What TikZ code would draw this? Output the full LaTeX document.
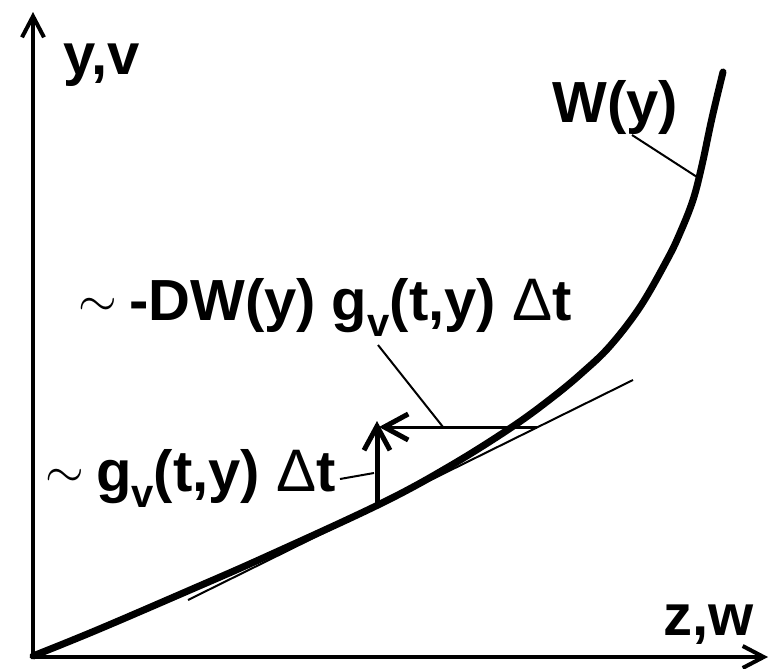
\documentclass[tikz,border=0pt]{standalone}
\usepackage{fontspec}
\setmainfont{Liberation Sans}
\usetikzlibrary{arrows.meta}

\tikzset{
  lbl/.style={font=\fontsize{29}{34}\selectfont\bfseries, inner sep=0pt, anchor=base west},
  leader/.style={line width=1pt},
}
\newcommand{\tld}{\raisebox{2pt}{\fontsize{28}{28}\selectfont$\sim$}\hspace{6pt}}
\newcommand{\subv}{\raisebox{-8pt}{\fontsize{20}{20}\selectfont v}}
\newcommand{\dlt}{{\fontsize{30}{30}\selectfont\mdseries Δ}}

\begin{document}
\begin{tikzpicture}[x=0.5pt, y=-0.5pt, >={Straight Barb[length=10.5pt, width=11pt]}]
  \useasboundingbox (0,0) rectangle (772,669);
  % 1. Achsen
  \coordinate (O) at (33,657);
  \coordinate (ytip) at (33,12);
  \coordinate (xtip) at (768,657);
  \draw[->, line width=2pt] (O) -- (ytip);
  \draw[->, line width=2pt] (O) -- (xtip);
  \node[lbl] (yv) at (63,75) {y,v};
  \node[lbl] (zw) at (663,635) {z,w};
  % 2. Kurve W(y)
  \draw[line width=3.5pt, line cap=round] plot[smooth, tension=0.6] coordinates {
    (33,656) (97,630) (190,590) (263,558) (380,504) (450,466) (512,427)
    (553,397) (583,372) (610,346) (640,307) (667,260) (680,233) (693,200)
    (702,165) (712,118) (723,72)};
  \node[lbl] (Wy) at (552,122) {W(y)};
  \coordinate (Wfoot) at (632,135);
  \coordinate (Wcurve) at (697,177);
  \draw[leader] (Wfoot) -- (Wcurve);
  % 3. Tangente
  \coordinate (tA) at (188,600);
  \coordinate (tB) at (633,380);
  \draw[leader] (tA) -- (tB);
  % 4. Zuwachs g_v
  \coordinate (P) at (377,504);
  \coordinate (Q) at (377,421);
  \coordinate (R) at (537,427);
  \coordinate (S) at (379,427);
  \draw[line width=2.5pt, -{Straight Barb[length=12pt, width=13pt]}] (P) -- (Q);
  \draw[line width=1.5pt, -{Straight Barb[length=12pt, width=13pt, line width=2.5pt]}] (R) -- (S);
  % 5. Beschriftungen
  \node[lbl] (dw) at (78,320) {\tld -DW(y) g\subv(t,y) \dlt t};
  \node[lbl] (gv) at (45,491) {\tld g\subv(t,y) \dlt t};
  \coordinate (dwfoot) at (378,345);
  \coordinate (dwline) at (443,427);
  \draw[leader] (dwfoot) -- (dwline);
  \coordinate (gvfoot) at (340,479);
  \coordinate (gvline) at (374,473);
  \draw[leader] (gvfoot) -- (gvline);
\end{tikzpicture}
\end{document}
